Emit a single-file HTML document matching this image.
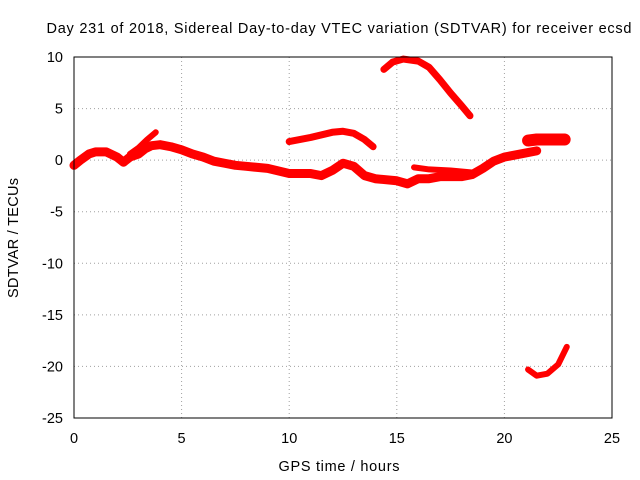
<!DOCTYPE html>
<html><head><meta charset="utf-8"><style>
body{margin:0;background:#fff;}
svg{display:block;font-family:"Liberation Sans",sans-serif;font-size:14.5px;}
</style></head><body>
<svg id="chart" width="640" height="480">
<text x="339" y="33" text-anchor="middle" textLength="585">Day 231 of 2018, Sidereal Day-to-day VTEC variation (SDTVAR) for receiver ecsd</text>
<text x="339" y="471" text-anchor="middle" textLength="121">GPS time / hours</text>
<text transform="translate(18,238) rotate(-90)" text-anchor="middle" textLength="120">SDTVAR / TECUs</text>
<g id="grid"></g><g id="series"></g>
<rect x="74" y="57" width="538" height="361" fill="none" stroke="#000"/>
</svg>
<script>
const xTicks=[0,5,10,15,20,25];
const yTicks=[10,5,0,-5,-10,-15,-20,-25];
const segMain=[[0,-0.5],[0.3,0],[0.7,0.6],[1,0.8],[1.5,0.8],[2,0.3],[2.3,-0.2],[2.6,0.3],[3,0.6],[3.3,1.1],[3.6,1.4],[4,1.5],[4.5,1.3],[5,1],[5.5,0.6],[6,0.3],[6.5,-0.1],[7,-0.3],[7.5,-0.5],[8,-0.6],[9,-0.8],[10,-1.3],[11,-1.3],[11.5,-1.5],[12,-1.0],[12.5,-0.3],[13,-0.6],[13.5,-1.5],[14,-1.8],[15,-2.0],[15.5,-2.3],[16,-1.8],[16.5,-1.8],[17,-1.6],[18,-1.6],[18.5,-1.4],[19,-0.8],[19.5,-0.1],[20,0.3],[21,0.7],[21.5,0.9]];
const segUpper=[[2.6,0.6],[3,1.2],[3.4,2],[3.8,2.7]];
const segEve=[[10,1.8],[11,2.2],[12,2.7],[12.5,2.8],[13,2.6],[13.5,2],[13.9,1.3]];
const segHigh=[[14.4,8.8],[14.8,9.5],[15.3,9.8],[16,9.6],[16.5,9.0],[17,7.8],[17.5,6.5],[18,5.3],[18.4,4.3]];
const segMid=[[15.8,-0.7],[16.5,-0.9],[17.5,-1.0],[18.5,-1.2]];
const segLate=[[21.1,1.9],[21.5,2.0],[22,2.0],[22.8,2.0]];
const segLow=[[21.1,-20.3],[21.5,-20.9],[22,-20.7],[22.5,-19.8],[22.9,-18.1]];
const seriesList=[segMain,segUpper,segEve,segHigh,segMid,segLate,segLow];
const seriesNames=['series-main','series-upper','series-evening','series-high','series-mid','series-late','series-low'];
const widths=[9,6,7,7,6,12,6];
const X=v=>74+v*538/25, Y=v=>57+(10-v)*361/35;
const NS='http://www.w3.org/2000/svg';
const g=document.getElementById('grid');
xTicks.forEach(t=>{
 const l=document.createElementNS(NS,'line');
 
 
 l.setAttribute('x1',X(t));l.setAttribute('x2',X(t));l.setAttribute('y1',57);l.setAttribute('y2',418);
 l.setAttribute('stroke','#a0a0a0');l.setAttribute('stroke-dasharray','1,3');g.appendChild(l);
 const s=document.createElementNS(NS,'text');
 
 
 s.setAttribute('x',X(t));s.setAttribute('y',443);s.setAttribute('text-anchor','middle');s.textContent=t;g.appendChild(s);
});
yTicks.forEach(t=>{
 const l=document.createElementNS(NS,'line');
 
 
 l.setAttribute('x1',74);l.setAttribute('x2',612);l.setAttribute('y1',Y(t));l.setAttribute('y2',Y(t));
 l.setAttribute('stroke','#a0a0a0');l.setAttribute('stroke-dasharray','1,3');g.appendChild(l);
 const s=document.createElementNS(NS,'text');
 
 
 s.setAttribute('x',63);s.setAttribute('y',Y(t)+5);s.setAttribute('text-anchor','end');s.textContent=t;g.appendChild(s);
});
const sg=document.getElementById('series');
seriesList.forEach((seg,i)=>{
 const p=document.createElementNS(NS,'polyline');
 
 
 p.setAttribute('points',seg.map(d=>X(d[0])+','+Y(d[1])).join(' '));
 p.setAttribute('fill','none');p.setAttribute('stroke','#ff0000');p.setAttribute('stroke-width',widths[i]);
 p.setAttribute('stroke-linejoin','round');p.setAttribute('stroke-linecap','round');
 sg.appendChild(p);
});
</script>
</body></html>
